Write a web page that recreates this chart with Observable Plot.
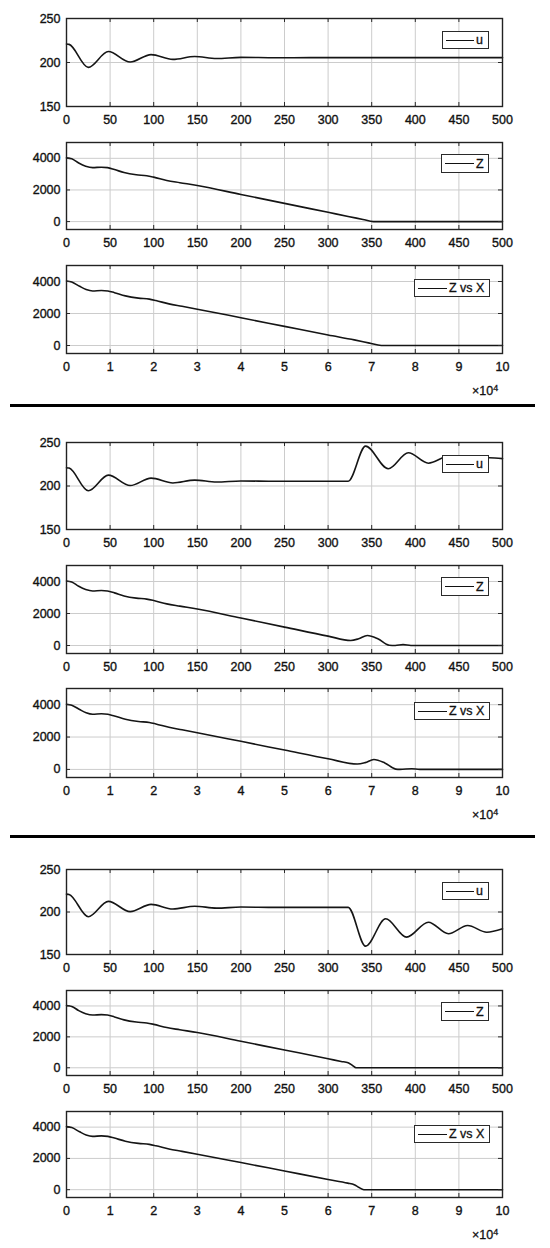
<!DOCTYPE html>
<html><head><meta charset="utf-8">
<script src="https://cdn.jsdelivr.net/npm/d3@7"></script>
<script src="https://cdn.jsdelivr.net/npm/@observablehq/plot@0.6"></script>
<style>
html,body{margin:0;padding:0;background:#fff;}
#page{position:relative;width:550px;height:1248px;overflow:hidden;font-family:"Liberation Sans",Arial,sans-serif;background:#fff;}
.pw{position:absolute;left:0;}
.pw svg{display:block;}
.pw svg text{stroke:#111;stroke-width:0.35px;}
.legend{position:absolute;background:#fff;border:1px solid #2a2a2a;box-sizing:border-box;display:flex;align-items:center;font-size:12.5px;color:#111;white-space:nowrap;-webkit-text-stroke:0.3px #111;}
.legend .ln{height:0;border-top:1.3px solid #111;margin-left:3px;margin-right:2px;}
.sep{position:absolute;left:10px;width:525px;height:3px;background:#000;}
.exp{position:absolute;font-size:12.5px;color:#111;line-height:1;white-space:nowrap;-webkit-text-stroke:0.3px #111;}
.exp sup{font-size:9px;position:relative;top:-1px;vertical-align:top;}
</style></head><body><div id="page"></div>
<script>
// ---------- data ----------
// tick labels
const timeTicks = [0, 50, 100, 150, 200, 250, 300, 350, 400, 450, 500];
const distTicks = [0, 1, 2, 3, 4, 5, 6, 7, 8, 9, 10]; // ×10^4
const uTicks = [150, 200, 250];
const zTicks = [0, 2000, 4000];

// u(t) common part, shared by the three cases
const uTimeCommon = [0, 3, 25, 48, 73, 97, 122, 147, 172, 200, 240, 280, 300, 323];
const uCommon     = [221, 220.6, 194.5, 212.5, 200.5, 209, 203.5, 206.8, 204.6, 205.8, 205.4, 205.5, 205.5, 205.5];
// case 1 tail
const uTime1 = [350, 400, 450, 500];
const u1     = [205.5, 205.5, 205.5, 205.5];
// case 2 tail
const uTime2 = [343, 369, 392, 415, 438, 462, 485, 500];
const u2     = [245.8, 219.8, 238.2, 226.2, 234, 229.5, 232.5, 231.5];
// case 3 tail
const uTime3 = [343, 366, 390, 415, 438, 460, 482, 500];
const u3     = [159.8, 192, 170.4, 188, 174.4, 184.1, 176.2, 180.2];

// Z(t) common part
const zTimeCommon = [0, 6, 14, 22, 30, 40, 47, 55, 66, 80, 92, 100, 115, 130, 150, 200, 250, 300];
const zCommon     = [4030, 3970, 3700, 3500, 3410, 3440, 3410, 3290, 3100, 2960, 2900, 2810, 2600, 2460, 2280, 1715, 1150, 585];
const zTime1 = [323, 340, 352, 500];
const z1     = [325, 135, 0, 0];
const zTime2 = [326, 335, 345, 357, 370, 377, 386, 395, 500];
const z2     = [315, 420, 625, 420, 15, 0, 55, 0, 0];
const zTime3 = [315, 323, 328, 332, 500];
const z3     = [410, 320, 150, 0, 0];

// Z vs X (X in units of 10^4) common part
const xCommon  = [0, 0.12, 0.3, 0.45, 0.6, 0.8, 0.95, 1.1, 1.35, 1.65, 1.9, 2.05, 2.35, 2.65, 3.0, 4.0, 5.0, 6.0];
const zxCommon = [4030, 3970, 3700, 3500, 3410, 3440, 3410, 3300, 3100, 2960, 2900, 2810, 2600, 2450, 2270, 1735, 1195, 655];
const xTail1  = [6.6, 6.95, 7.22, 10];
const zxTail1 = [350, 150, 0, 0];
const xTail2  = [6.67, 6.85, 7.05, 7.3, 7.55, 7.65, 7.92, 8.1, 10];
const zxTail2 = [330, 420, 615, 400, 20, 0, 45, 0, 0];
const xTail3  = [6.45, 6.6, 6.7, 6.82, 10];
const zxTail3 = [420, 320, 160, 0, 0];

const legendU = "u", legendZ = "Z", legendZX = "Z vs X";

// ---------- build ----------
const pts = (xs, ys) => xs.map((x, i) => ({x, y: ys[i]}));
const cases = [
  {u: pts(uTimeCommon.concat(uTime1), uCommon.concat(u1)),
   z: pts(zTimeCommon.concat(zTime1), zCommon.concat(z1)),
   zx: pts(xCommon.concat(xTail1), zxCommon.concat(zxTail1))},
  {u: pts(uTimeCommon.concat(uTime2), uCommon.concat(u2)),
   z: pts(zTimeCommon.concat(zTime2), zCommon.concat(z2)),
   zx: pts(xCommon.concat(xTail2), zxCommon.concat(zxTail2))},
  {u: pts(uTimeCommon.concat(uTime3), uCommon.concat(u3)),
   z: pts(zTimeCommon.concat(zTime3), zCommon.concat(z3)),
   zx: pts(xCommon.concat(xTail3), zxCommon.concat(zxTail3))}
];

// layout (pixel positions of each plot frame)
const layout = [
  {u:[18,106], z:[142,229], zx:[265,353]},
  {u:[442,529], z:[565,653], zx:[688,777]},
  {u:[869,954], z:[990,1075], zx:[1111,1197]}
];
const sepTops = [404, 834.5];

const page = document.getElementById("page");
const W = 550, ML = 66, MR = 48, MT = 6, MB = 28;
const gridColor = "#cccccc", tickColor = "#2a2a2a";

function panel(top, bottom, data, xDomain, xTicks, yDomain, yTicks, xFormat) {
  const h = bottom - top;
  const pw = W - ML - MR;
  const svg = Plot.plot({
    width: W, height: h + MT + MB,
    marginLeft: ML, marginRight: MR, marginTop: MT, marginBottom: MB,
    x: {domain: xDomain, label: null},
    y: {domain: yDomain, label: null},
    style: {fontFamily: '"Liberation Sans", Arial, sans-serif', fontSize: "12.5px", color: "#111", background: "transparent", overflow: "visible"},
    marks: [
      Plot.gridX(xTicks, {stroke: gridColor, strokeOpacity: 1}),
      Plot.gridY(yTicks, {stroke: gridColor, strokeOpacity: 1}),
      Plot.line(data, {x: "x", y: "y", curve: "monotone-x", stroke: "#151515", strokeWidth: 1.6}),
      Plot.tickX(xTicks, {x: d => d, insetTop: h - 4, stroke: tickColor}),
      Plot.tickX(xTicks, {x: d => d, insetBottom: h - 4, stroke: tickColor}),
      Plot.tickY(yTicks, {y: d => d, insetRight: pw - 4, stroke: tickColor}),
      Plot.tickY(yTicks, {y: d => d, insetLeft: pw - 4, stroke: tickColor}),
      Plot.frame({stroke: "#222", strokeWidth: 1.4}),
      Plot.axisX(xTicks, {tickSize: 0, tickPadding: 9, tickFormat: xFormat || (d => String(d)), fill: "#111"}),
      Plot.axisY(yTicks, {tickSize: 0, tickPadding: 6, tickFormat: d => String(d), fill: "#111"})
    ]
  });
  const wrap = document.createElement("div");
  wrap.className = "pw";
  wrap.style.top = (top - MT) + "px";
  wrap.appendChild(svg);
  page.appendChild(wrap);
}

function legend(label, left, top, w, h, lineW) {
  const d = document.createElement("div");
  d.className = "legend";
  Object.assign(d.style, {left: left + "px", top: top + "px", width: w + "px", height: h + "px"});
  const ln = document.createElement("span");
  ln.className = "ln";
  ln.style.width = lineW + "px";
  const t = document.createElement("span");
  t.textContent = label;
  d.appendChild(ln); d.appendChild(t);
  page.appendChild(d);
}

cases.forEach((c, i) => {
  const L = layout[i];
  panel(L.u[0], L.u[1], c.u, [0, 500], timeTicks, [150, 250], uTicks);
  legend(legendU, 442, L.u[0] + 13, 47, 18, 28);
  panel(L.z[0], L.z[1], c.z, [0, 500], timeTicks, [-500, 5000], zTicks);
  legend(legendZ, 441, L.z[0] + 12, 48, 19, 29);
  panel(L.zx[0], L.zx[1], c.zx, [0, 10], distTicks, [-500, 5000], zTicks);
  legend(legendZX, 414, L.zx[0] + 14, 76, 18, 29);
  const e = document.createElement("div");
  e.className = "exp";
  e.innerHTML = "×10<sup>4</sup>";
  e.style.left = "472px";
  e.style.top = (L.zx[1] + 32) + "px";
  page.appendChild(e);
});

sepTops.forEach(t => {
  const s = document.createElement("div");
  s.className = "sep";
  s.style.top = t + "px";
  page.appendChild(s);
});
</script></body></html>
